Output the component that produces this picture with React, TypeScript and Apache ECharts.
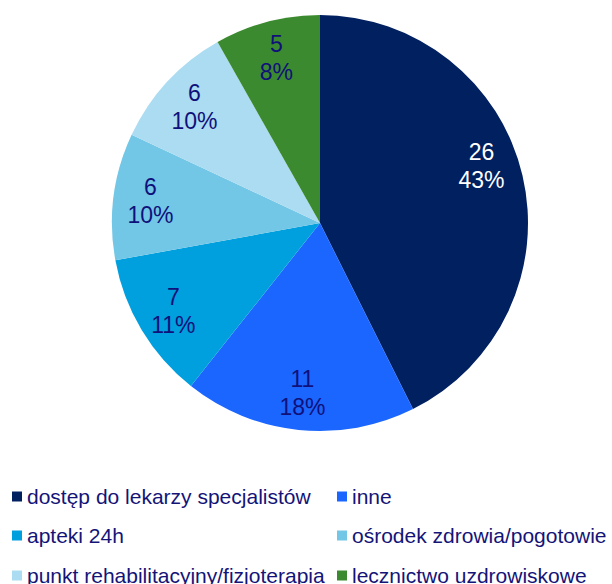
import React, { useEffect, useRef } from "react";
import * as echarts from "echarts";

const categories = [
  "dostęp do lekarzy specjalistów",
  "inne",
  "apteki 24h",
  "ośrodek zdrowia/pogotowie",
  "punkt rehabilitacyjny/fizjoterapia",
  "lecznictwo uzdrowiskowe",
];
const values = [26, 11, 7, 6, 6, 5];
const colors = ["#002060", "#1A66FF", "#009FDD", "#72C6E6", "#ABDCF1", "#3C8A2F"];
const labelColors = ["#FFFFFF", "#10107A", "#10107A", "#10107A", "#10107A", "#10107A"];

export default function App() {
  const ref = useRef<HTMLDivElement>(null);
  useEffect(() => {
    if (!ref.current) return;
    const chart = echarts.init(ref.current, undefined, { renderer: "svg" });
    const total = values.reduce((a, b) => a + b, 0);
    const baseData = categories.map((name, i) => ({
      name,
      value: values[i],
      itemStyle: { color: colors[i] },
    }));
    const labelData = categories.map((name, i) => ({
      name,
      value: values[i],
      itemStyle: { color: "rgba(0,0,0,0)" },
      label: i === 0 ? { color: labelColors[i], offset: [-5, -18] } : { color: labelColors[i] },
    }));
    const rowTops = [486, 525, 565];
    const colLefts = [12, 337];
    const legends = categories.map((name, i) => ({
      orient: "horizontal" as const,
      left: colLefts[i % 2],
      top: rowTops[Math.floor(i / 2)],
      padding: 0,
      itemWidth: 10,
      itemHeight: 10,
      icon: "rect",
      data: [name],
      textStyle: {
        fontFamily: "Liberation Sans, Arial, sans-serif",
        fontSize: 21,
        color: "#141478",
        lineHeight: 21,
      },
    }));
    chart.setOption({
      animation: false,
      legend: legends,
      series: [
        {
          type: "pie",
          center: [320, 223],
          radius: [0, 208],
          startAngle: 90,
          clockwise: true,
          label: { show: false },
          labelLine: { show: false },
          silent: true,
          data: baseData,
        },
        {
          type: "pie",
          center: [320, 223],
          radius: [128, 208],
          startAngle: 90,
          clockwise: true,
          silent: true,
          labelLine: { show: false },
          label: {
            show: true,
            position: "inside",
            fontFamily: "Liberation Sans, Arial, sans-serif",
            fontSize: 23,
            lineHeight: 28,
            formatter: (p: any) => `${p.value}\n${Math.round((p.value / total) * 100)}%`,
          },
          data: labelData,
        },
      ],
    });
    return () => chart.dispose();
  }, []);
  return <div ref={ref} style={{ width: 612, height: 584, position: "absolute", left: 0, top: 0 }} />;
}
